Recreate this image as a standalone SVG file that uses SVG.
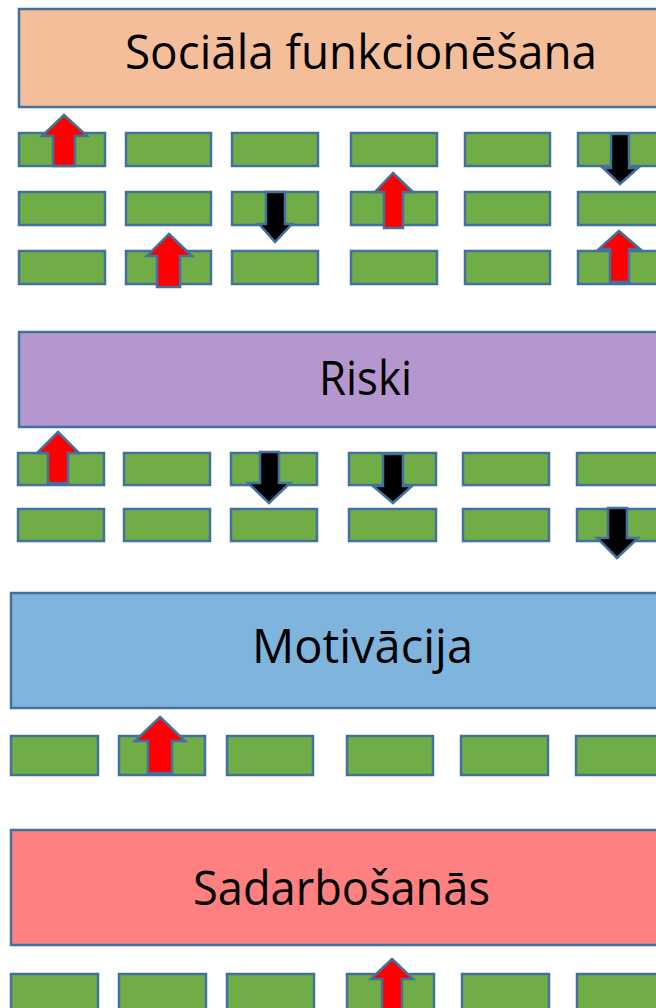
<svg xmlns="http://www.w3.org/2000/svg" width="656" height="1008" viewBox="0 0 656 1008">
<style>
.band{stroke:#41719C;stroke-width:2.5}
.b{fill:#70AD47;stroke:#41719C;stroke-width:2.5}
.lbl{font-family:"Open Sans","Noto Sans",sans-serif;font-size:47px;fill:#000}
.up{fill:#FF0000;stroke:#41719C;stroke-width:2.5;stroke-linejoin:miter}
.dn{fill:#000;stroke:#41719C;stroke-width:2.5;stroke-linejoin:miter}
</style>
<rect width="656" height="1008" fill="#fff"/>
<g id="social">
<rect class="band" x="19" y="9" width="650" height="98" fill="#F5BE9A"/>
<text class="lbl" x="125" y="69" textLength="472" lengthAdjust="spacingAndGlyphs">Sociāla funkcionēšana</text>
</g>
<g id="social-boxes">
<rect class="b" x="19" y="133" width="86" height="33"/>
<rect class="b" x="126" y="133" width="85" height="33"/>
<rect class="b" x="232" y="133" width="86" height="33"/>
<rect class="b" x="351" y="133" width="86" height="33"/>
<rect class="b" x="465" y="133" width="85" height="33"/>
<rect class="b" x="578" y="133" width="90" height="33"/>
<rect class="b" x="19" y="192" width="86" height="33"/>
<rect class="b" x="126" y="192" width="85" height="33"/>
<rect class="b" x="232" y="192" width="86" height="33"/>
<rect class="b" x="351" y="192" width="86" height="33"/>
<rect class="b" x="465" y="192" width="85" height="33"/>
<rect class="b" x="578" y="192" width="90" height="33"/>
<rect class="b" x="19" y="251" width="86" height="33"/>
<rect class="b" x="126" y="251" width="85" height="33"/>
<rect class="b" x="232" y="251" width="86" height="33"/>
<rect class="b" x="351" y="251" width="86" height="33"/>
<rect class="b" x="465" y="251" width="85" height="33"/>
<rect class="b" x="578" y="251" width="90" height="33"/>
</g>
<g id="riski">
<rect class="band" x="19" y="332" width="650" height="95" fill="#B597CF"/>
<text class="lbl" x="319" y="395" textLength="93" lengthAdjust="spacingAndGlyphs">Riski</text>
</g>
<g id="riski-boxes">
<rect class="b" x="18" y="453" width="86" height="32"/>
<rect class="b" x="124" y="453" width="86" height="32"/>
<rect class="b" x="231" y="453" width="86" height="32"/>
<rect class="b" x="349" y="453" width="87" height="32"/>
<rect class="b" x="463" y="453" width="86" height="32"/>
<rect class="b" x="577" y="453" width="90" height="32"/>
<rect class="b" x="18" y="509" width="86" height="32"/>
<rect class="b" x="124" y="509" width="86" height="32"/>
<rect class="b" x="231" y="509" width="86" height="32"/>
<rect class="b" x="349" y="509" width="87" height="32"/>
<rect class="b" x="463" y="509" width="86" height="32"/>
<rect class="b" x="577" y="509" width="90" height="32"/>
</g>
<g id="motivacija">
<rect class="band" x="11" y="593" width="660" height="115" fill="#7FB4DC"/>
<text class="lbl" x="252" y="663" textLength="221" lengthAdjust="spacingAndGlyphs">Motivācija</text>
</g>
<g id="motivacija-boxes">
<rect class="b" x="11" y="736" width="87" height="39"/>
<rect class="b" x="119" y="736" width="86" height="39"/>
<rect class="b" x="227" y="736" width="86" height="39"/>
<rect class="b" x="347" y="736" width="86" height="39"/>
<rect class="b" x="461" y="736" width="87" height="39"/>
<rect class="b" x="576" y="736" width="90" height="39"/>
</g>
<g id="sadarbosanas">
<rect class="band" x="11" y="830" width="660" height="115" fill="#FF8080"/>
<text class="lbl" x="193" y="905" textLength="297" lengthAdjust="spacingAndGlyphs">Sadarbošanās</text>
</g>
<g id="sadarbosanas-boxes">
<rect class="b" x="11" y="974" width="87" height="40"/>
<rect class="b" x="119" y="974" width="87" height="40"/>
<rect class="b" x="227" y="974" width="87" height="40"/>
<rect class="b" x="347" y="974" width="87" height="40"/>
<rect class="b" x="462" y="974" width="87" height="40"/>
<rect class="b" x="577" y="974" width="90" height="40"/>
</g>
<g id="connectors">
<path class="up" d="M64 115 L87 136 L75 136 L75 166 L53 166 L53 136 L42 136 Z"/>
<path class="dn" d="M266 192 L285 192 L285 224 L292 224 L275 242 L259 224 L266 224 Z"/>
<path class="up" d="M169 234 L192 256 L180 256 L180 287 L157 287 L157 256 L147 256 Z"/>
<path class="up" d="M393 173 L413 192 L403 192 L403 228 L384 228 L384 192 L375 192 Z"/>
<path class="dn" d="M611 134 L629 134 L629 168 L638 168 L620 184 L603 168 L611 168 Z"/>
<path class="up" d="M619 231 L640 249 L629 249 L629 282 L610 282 L610 249 L599 249 Z"/>
<path class="up" d="M58 432 L79 453 L68 453 L68 483 L48 483 L48 453 L37 453 Z"/>
<path class="dn" d="M260 452 L279 452 L279 483 L290 483 L269 503 L248 483 L260 483 Z"/>
<path class="dn" d="M383 454 L403 454 L403 486 L412 486 L393 503 L373 486 L383 486 Z"/>
<path class="dn" d="M608 508 L627 508 L627 538 L638 538 L617 558 L597 538 L608 538 Z"/>
<path class="up" d="M160 717 L185 741 L172 741 L172 773 L148 773 L148 741 L135 741 Z"/>
<path class="up" d="M392 959 L413 979 L402 979 L402 1012 L382 1012 L382 979 L371 979 Z"/>
</g>
</svg>
